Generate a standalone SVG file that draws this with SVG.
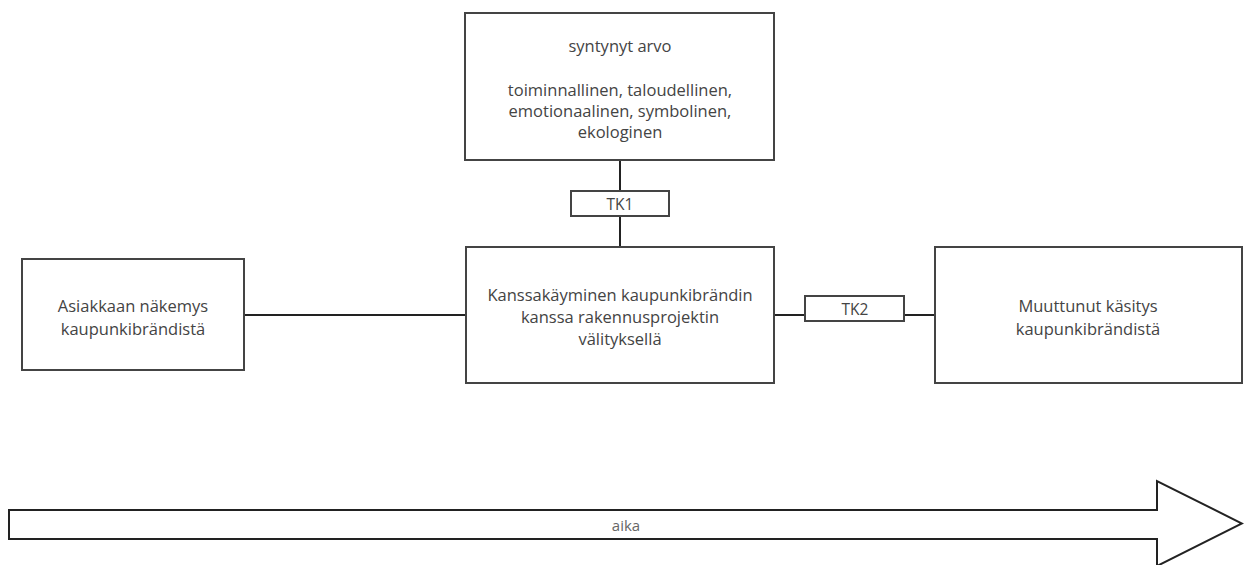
<svg xmlns="http://www.w3.org/2000/svg" width="1244" height="565" viewBox="0 0 1244 565">
<style>
.box{fill:#fff;stroke:#444;stroke-width:2}
.con{stroke:#222;stroke-width:2;fill:none}
text{font-family:"Open Sans","Noto Sans",sans-serif;font-size:16.5px;fill:#444;text-anchor:middle;dominant-baseline:central}
</style>
<rect width="1244" height="565" fill="#fff"/>
<g id="connectors">
<line class="con" x1="620" y1="160" x2="620" y2="247"/>
<line class="con" x1="244" y1="315" x2="466" y2="315"/>
<line class="con" x1="774" y1="315" x2="935" y2="315"/>
</g>
<g id="value">
<rect class="box" x="465" y="13" width="309" height="147"/>
<text x="620" y="45">syntynyt arvo</text>
<text x="620" y="89">toiminnallinen, taloudellinen,</text>
<text x="620" y="110">emotionaalinen, symbolinen,</text>
<text x="620" y="131">ekologinen</text>
</g>
<g id="tk1">
<rect class="box" x="571" y="191" width="98" height="25"/>
<text x="620" y="204" style="font-size:15.5px">TK1</text>
</g>
<g id="view">
<rect class="box" x="22" y="259" width="222" height="111"/>
<text x="133" y="305">Asiakkaan näkemys</text>
<text x="133" y="328">kaupunkibrändistä</text>
</g>
<g id="interaction">
<rect class="box" x="466" y="247" width="308" height="136"/>
<text x="620" y="294">Kanssakäyminen kaupunkibrändin</text>
<text x="620" y="316">kanssa rakennusprojektin</text>
<text x="620" y="338">välityksellä</text>
</g>
<g id="tk2">
<rect class="box" x="805" y="296" width="99" height="25"/>
<text x="855" y="309" style="font-size:15.5px">TK2</text>
</g>
<g id="changed">
<rect class="box" x="935" y="247" width="307" height="136"/>
<text x="1088" y="305">Muuttunut käsitys</text>
<text x="1088" y="328">kaupunkibrändistä</text>
</g>
<g id="time">
<polygon points="9,510 1157,510 1157,481 1242,523.5 1157,566 1157,539 9,539" fill="#fff" stroke="#222" stroke-width="2"/>
<text x="626" y="525" style="font-size:15px;fill:#666">aika</text>
</g>
</svg>
